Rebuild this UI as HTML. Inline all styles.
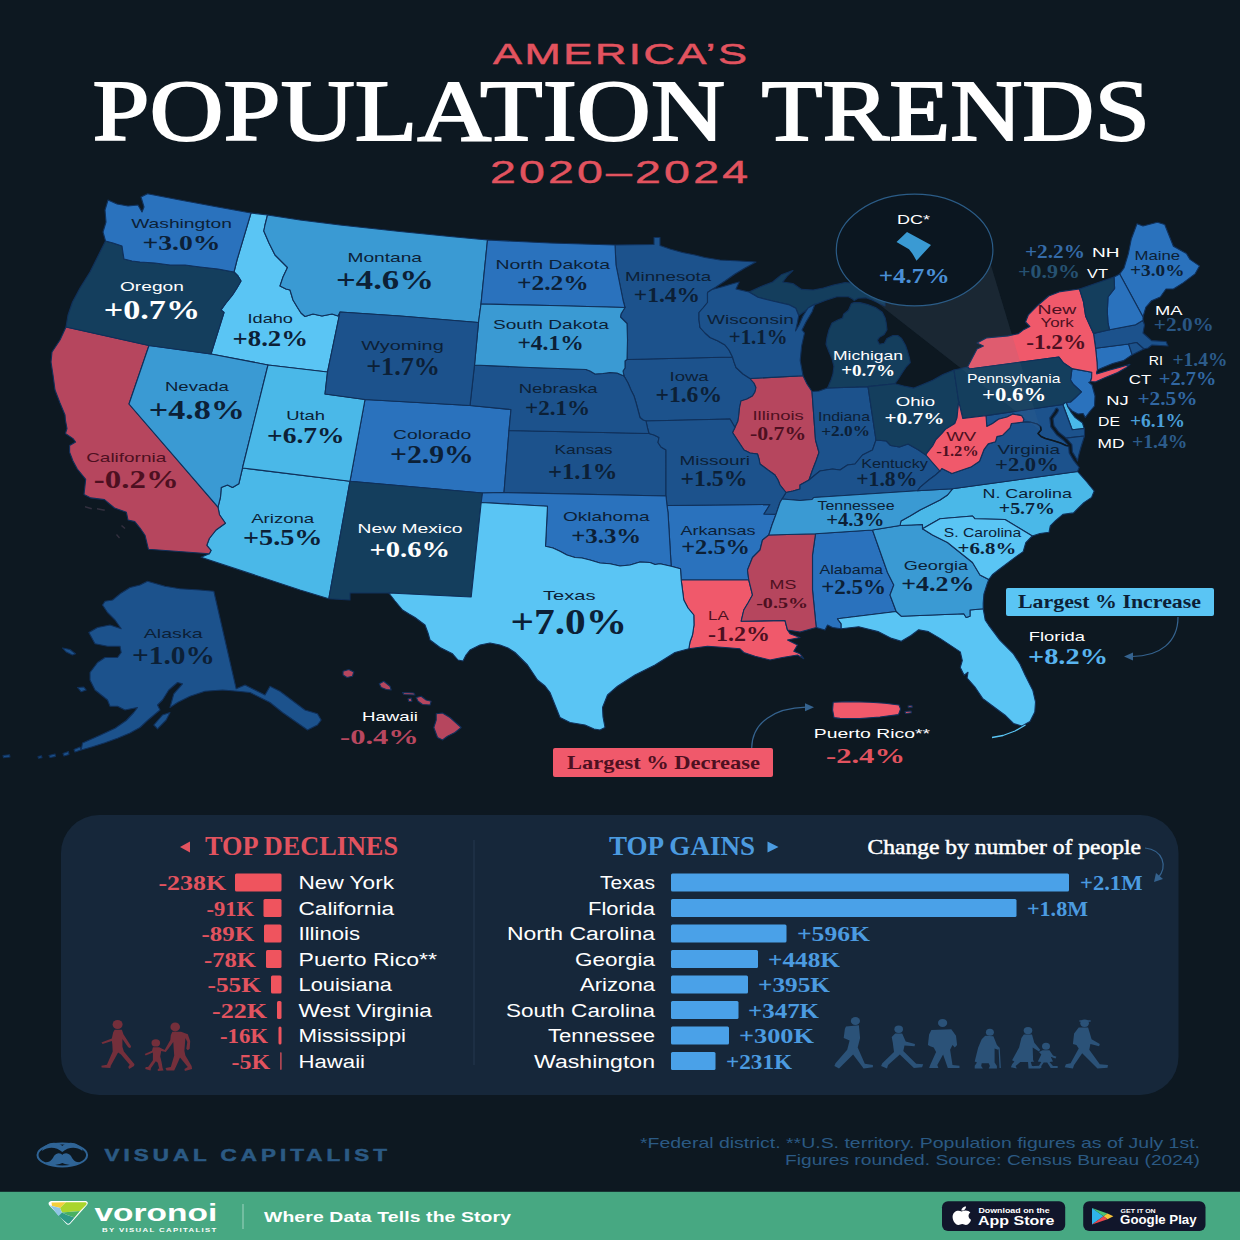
<!DOCTYPE html>
<html><head><meta charset="utf-8"><title>America's Population Trends 2020-2024</title>
<style>
html,body{margin:0;padding:0;background:#0d1821;}
body{width:1240px;height:1240px;overflow:hidden;font-family:"Liberation Sans",sans-serif;}
svg{display:block;}
.s{font-family:"Liberation Serif",serif;}
.n{font-family:"Liberation Sans",sans-serif;}
</style></head><body>
<svg width="1240" height="1240" viewBox="0 0 1240 1240">
<path d="M848 280 L1041 431 L990 262 Z" fill="#5a7390" opacity="0.07"/>
<g stroke="#10305a" stroke-width="1.1" stroke-linejoin="round">
<path d="M872.5 530.0 L815.5 533.8 L812.5 555.0 L812.5 590.0 L816.2 627.5 L825.0 630.0 L827.5 625.0 L832.5 627.5 L841.2 628.8 L841.2 623.8 L837.5 618.8 L896.2 611.5 L890.0 595.0 L893.8 585.0 L887.5 572.5 L872.5 530.0Z" fill="#2a72bd"/>
<path d="M667.0 505.5 L668.0 512.5 L671.2 566.2 L680.5 568.8 L681.2 580.0 L748.8 580.0 L747.5 570.0 L752.5 557.5 L760.0 550.0 L762.5 540.0 L768.8 535.0 L772.0 525.0 L776.0 514.2 L764.0 514.0 L770.0 504.5 L667.0 505.5Z" fill="#2a72bd"/>
<path d="M218.0 507.2 L219.5 514.8 L225.4 523.3 L216.0 530.0 L209.3 538.5 L206.8 545.3 L211.0 550.4 L209.3 553.8 L201.0 557.2 L300.0 590.0 L328.8 598.8 L350.0 481.2 L242.5 468.0 L238.8 483.8 L232.5 487.5 L227.5 485.0 L221.2 487.5 L220.5 497.0 L218.0 507.2Z" fill="#4ab8e8"/>
<path d="M66.0 327.0 L149.0 345.5 L129.0 404.0 L218.0 507.2 L219.5 514.8 L225.4 523.3 L216.0 530.0 L209.3 538.5 L206.8 545.3 L211.0 550.4 L209.3 553.8 L148.4 549.2 L145.0 535.2 L140.0 528.0 L134.8 521.6 L128.0 520.0 L126.4 512.3 L114.5 508.0 L104.4 499.6 L90.8 497.9 L84.0 494.5 L85.7 479.3 L77.3 469.0 L73.0 461.0 L69.6 452.2 L69.6 445.4 L75.6 442.0 L73.0 438.6 L65.4 433.5 L67.0 428.5 L65.4 420.0 L65.0 415.0 L60.0 403.0 L55.0 390.0 L53.0 375.0 L51.0 362.0 L52.0 352.0 L60.0 340.0 L66.0 327.0Z" fill="#b6465e"/>
<path d="M365.0 399.5 L350.0 481.2 L482.5 493.0 L504.0 492.5 L509.0 430.5 L511.0 409.5 L470.0 405.5 L365.0 399.5Z" fill="#2a72bd"/>
<path d="M1095.6 348.3 L1097.0 362.0 L1097.4 370.0 L1101.8 367.9 L1112.7 363.5 L1123.5 360.6 L1132.2 354.8 L1128.6 344.0 L1095.6 348.3Z" fill="#2a72bd"/>
<path d="M1062.8 404.5 L1064.5 403.0 L1066.4 402.3 L1067.9 406.7 L1070.8 411.8 L1075.2 417.6 L1082.4 422.7 L1083.9 427.7 L1084.5 428.5 L1072.2 429.8 L1062.8 404.5Z" fill="#4ab8e8"/>
<path d="M841.2 628.8 L841.2 623.8 L837.5 618.8 L896.2 611.5 L901.2 616.2 L963.8 613.8 L966.2 617.5 L970.0 616.2 L970.0 610.0 L983.2 608.8 L985.2 620.0 L988.4 624.8 L1000.0 640.3 L1013.5 653.9 L1020.0 664.0 L1025.2 675.2 L1032.9 690.6 L1035.5 702.0 L1034.8 712.0 L1030.0 721.6 L1022.0 726.0 L1013.5 723.5 L1005.8 715.8 L998.0 710.0 L990.3 704.2 L982.6 698.4 L974.8 686.8 L967.1 678.0 L968.0 672.3 L964.2 675.2 L960.3 667.4 L962.3 660.6 L960.3 651.9 L951.6 646.1 L940.0 638.4 L928.4 631.6 L918.7 629.7 L911.0 635.5 L901.3 641.3 L891.6 638.4 L878.0 631.6 L858.7 626.8 L841.2 628.8Z" fill="#5ac5f4"/>
<path d="M900.0 525.5 L872.5 530.0 L887.5 572.5 L893.8 585.0 L890.0 595.0 L896.2 611.5 L901.2 616.2 L963.8 613.8 L966.2 617.5 L970.0 616.2 L970.0 610.0 L983.2 608.8 L983.2 603.0 L983.9 594.2 L987.1 583.9 L988.8 579.5 L980.0 575.0 L972.5 562.5 L960.0 552.5 L947.5 542.5 L932.5 535.0 L922.5 528.8 L922.5 524.5 L900.0 525.5Z" fill="#3a9ad3"/>
<path d="M627.0 359.5 L625.0 361.0 L625.0 368.0 L623.0 371.0 L624.0 376.0 L628.0 383.0 L631.0 390.0 L634.0 396.0 L636.0 402.5 L638.0 410.0 L640.0 417.5 L643.0 420.0 L646.0 421.0 L730.0 419.0 L735.0 427.5 L738.0 421.0 L739.0 414.0 L739.5 408.0 L741.0 401.0 L747.0 399.0 L752.5 396.0 L755.0 392.0 L756.0 387.5 L754.0 383.0 L750.0 378.5 L743.0 374.0 L736.0 367.5 L734.0 362.0 L732.5 357.0 L627.0 359.5Z" fill="#1c528c"/>
<path d="M251.0 213.0 L237.0 260.0 L235.0 268.0 L234.0 272.0 L238.0 276.0 L241.0 281.0 L237.0 288.0 L232.5 295.0 L226.0 303.0 L221.0 310.0 L224.0 312.5 L211.0 354.0 L268.0 365.0 L327.5 372.0 L340.0 312.0 L338.0 316.0 L332.0 314.0 L322.0 316.0 L313.0 314.0 L305.0 316.5 L301.0 313.0 L297.5 307.5 L293.0 300.0 L290.0 290.0 L286.0 289.0 L280.0 286.0 L283.0 277.0 L287.5 267.5 L282.0 262.0 L275.0 255.0 L269.0 243.0 L263.8 231.0 L265.0 225.0 L267.5 215.0 L251.0 213.0Z" fill="#5ac5f4"/>
<path d="M750.0 378.5 L754.0 383.0 L756.0 387.5 L755.0 392.0 L752.5 396.0 L747.0 399.0 L741.0 401.0 L739.5 408.0 L739.0 414.0 L738.0 421.0 L735.0 427.5 L732.5 432.5 L738.0 441.0 L744.0 450.0 L750.0 453.0 L757.5 454.0 L759.0 459.0 L760.0 464.0 L768.0 470.0 L775.0 475.0 L778.0 480.0 L780.0 485.0 L786.0 492.5 L793.0 491.0 L800.0 489.0 L800.0 485.0 L809.0 480.0 L812.5 470.0 L816.0 461.0 L819.0 452.5 L815.5 440.0 L812.0 391.5 L807.0 384.0 L803.0 375.7 L750.0 378.5Z" fill="#b6465e"/>
<path d="M812.0 391.5 L815.5 440.0 L819.0 452.5 L816.0 461.0 L812.5 470.0 L809.0 480.0 L815.0 475.0 L820.0 471.0 L832.5 469.0 L840.0 470.0 L847.5 465.0 L855.0 464.0 L862.5 455.0 L872.5 450.0 L876.0 440.0 L868.0 386.6 L827.5 388.0 L819.0 391.0 L812.0 391.5Z" fill="#1c528c"/>
<path d="M509.0 430.5 L504.0 492.5 L666.0 496.0 L666.0 450.0 L661.0 447.0 L658.0 442.5 L659.0 437.5 L654.0 435.0 L649.0 433.5 L509.0 430.5Z" fill="#1c528c"/>
<path d="M809.0 480.0 L800.0 485.0 L800.0 489.0 L793.0 491.0 L786.0 492.5 L782.0 499.0 L800.0 500.5 L812.0 499.5 L813.8 497.5 L917.5 490.8 L920.0 487.4 L928.7 480.0 L934.5 475.8 L940.0 471.0 L932.5 462.5 L926.0 455.0 L918.2 449.8 L908.0 444.0 L899.4 447.0 L890.6 445.5 L886.3 441.0 L876.0 440.0 L872.5 450.0 L862.5 455.0 L855.0 464.0 L847.5 465.0 L840.0 470.0 L832.5 469.0 L820.0 471.0 L815.0 475.0 L809.0 480.0Z" fill="#1c528c"/>
<path d="M681.2 580.0 L748.8 580.0 L752.5 595.0 L748.0 603.0 L743.8 610.0 L741.2 621.2 L785.0 620.5 L787.5 630.0 L790.0 633.8 L800.0 637.5 L787.5 640.0 L797.5 645.0 L793.8 651.2 L800.0 653.8 L803.8 658.8 L797.5 655.0 L782.5 657.5 L770.0 660.0 L755.0 656.2 L743.8 652.5 L740.0 648.8 L725.0 647.5 L707.5 646.2 L688.8 648.8 L690.0 642.0 L692.5 635.0 L694.0 625.0 L693.8 615.0 L688.0 608.0 L683.8 600.0 L681.2 580.0Z" fill="#f0596b"/>
<path d="M1093.5 333.4 L1095.6 348.3 L1128.6 344.0 L1136.6 342.5 L1143.9 349.0 L1148.0 348.0 L1152.0 345.0 L1168.0 346.0 L1166.0 341.5 L1151.6 340.6 L1143.0 333.0 L1144.5 325.0 L1143.0 320.3 L1135.6 324.7 L1109.5 329.8 L1093.5 333.4Z" fill="#1c528c"/>
<path d="M986.0 415.6 L1062.8 404.5 L1072.2 429.8 L1084.5 428.5 L1084.5 436.0 L1066.2 438.1 L1058.9 432.3 L1054.0 425.6 L1053.0 418.7 L1057.7 412.4 L1058.6 410.1 L1057.0 408.0 L1055.4 408.9 L1054.9 410.6 L1049.8 417.9 L1050.8 427.0 L1056.5 434.7 L1063.8 440.5 L1068.7 445.9 L1066.0 445.5 L1060.6 443.0 L1052.7 440.5 L1045.4 438.5 L1041.0 436.5 L1038.0 433.5 L1041.0 430.0 L1040.5 426.5 L1037.0 424.0 L1030.0 422.0 L1023.0 422.1 L1023.8 419.2 L1021.6 415.6 L1012.9 414.1 L1007.0 417.0 L998.4 419.2 L992.6 423.5 L986.8 426.5 L986.0 415.6Z" fill="#1c528c"/>
<path d="M1119.7 273.9 L1143.0 317.0 L1145.8 307.3 L1151.6 300.7 L1160.3 297.0 L1166.0 289.0 L1173.4 289.0 L1183.5 282.6 L1195.0 273.9 L1199.5 265.9 L1190.0 259.4 L1186.4 253.5 L1173.4 246.3 L1164.7 224.5 L1157.4 222.3 L1143.0 226.0 L1137.0 223.8 L1131.3 239.0 L1128.4 253.5 L1124.0 268.0 L1119.7 273.9Z" fill="#2a72bd"/>
<path d="M749.0 292.0 L758.0 297.3 L772.6 301.0 L788.5 304.6 L795.8 308.2 L798.7 315.5 L805.0 311.0 L812.6 305.5 L825.2 300.6 L836.8 296.8 L848.4 296.8 L852.3 298.7 L854.2 300.6 L858.0 298.3 L865.8 297.8 L871.6 299.7 L877.5 302.5 L885.0 306.0 L885.0 298.0 L874.2 292.3 L867.0 288.0 L856.8 283.5 L845.2 282.5 L833.5 285.0 L823.4 288.0 L813.2 290.0 L801.6 289.4 L792.9 283.5 L782.7 282.0 L787.0 276.3 L792.9 270.5 L781.3 274.8 L772.6 282.0 L761.0 286.5 L749.0 292.0Z M827.5 388.0 L868.0 386.6 L895.0 383.8 L899.0 378.0 L902.6 372.3 L906.5 366.5 L910.3 362.6 L909.4 357.8 L907.4 351.0 L905.5 345.2 L901.6 338.4 L897.8 335.5 L893.0 335.5 L887.0 338.4 L884.2 343.2 L879.4 344.2 L877.4 340.3 L879.4 337.4 L884.2 334.5 L887.0 329.7 L886.2 322.9 L885.2 318.0 L882.3 312.3 L875.5 307.4 L867.8 304.5 L860.0 302.6 L854.2 302.6 L851.3 303.6 L848.4 310.3 L843.6 314.2 L842.6 318.0 L837.7 320.0 L832.0 323.0 L829.0 329.7 L827.0 337.4 L826.0 344.2 L829.0 352.0 L832.0 358.7 L833.9 366.5 L832.9 374.2 L831.0 380.0 L827.5 388.0Z" fill="#143e5d"/>
<path d="M615.0 245.0 L616.0 265.0 L619.0 280.0 L621.0 290.0 L623.0 300.0 L625.0 307.5 L621.0 314.0 L620.5 317.0 L627.0 323.5 L627.5 340.0 L627.0 359.5 L732.5 357.0 L729.0 350.0 L725.0 345.0 L718.0 341.0 L710.0 337.5 L705.0 333.0 L700.0 327.5 L699.0 320.0 L699.0 312.5 L703.0 308.0 L707.5 302.5 L707.5 292.5 L712.0 289.5 L716.0 287.0 L725.0 281.0 L735.0 274.0 L745.0 268.0 L756.0 262.0 L740.0 261.0 L720.0 260.0 L705.0 257.5 L695.0 255.0 L682.5 252.5 L670.0 249.0 L660.0 245.5 L660.0 237.5 L654.0 237.5 L654.0 244.5 L615.0 245.0Z" fill="#1c528c"/>
<path d="M646.0 421.0 L647.5 428.0 L649.0 433.5 L654.0 435.0 L659.0 437.5 L658.0 442.5 L661.0 447.0 L666.0 450.0 L666.0 496.0 L667.0 505.5 L770.0 504.5 L764.0 514.0 L776.0 514.2 L780.0 502.5 L782.0 499.0 L786.0 492.5 L780.0 485.0 L778.0 480.0 L775.0 475.0 L768.0 470.0 L760.0 464.0 L759.0 459.0 L757.5 454.0 L750.0 453.0 L744.0 450.0 L738.0 441.0 L732.5 432.5 L735.0 427.5 L730.0 419.0 L646.0 421.0Z" fill="#1c528c"/>
<path d="M815.5 533.8 L768.8 535.0 L762.5 540.0 L760.0 550.0 L752.5 557.5 L747.5 570.0 L748.8 580.0 L752.5 595.0 L748.0 603.0 L743.8 610.0 L741.2 621.2 L785.0 620.5 L787.5 630.0 L800.0 632.0 L816.2 627.5 L812.5 590.0 L812.5 555.0 L815.5 533.8Z" fill="#b6465e"/>
<path d="M267.5 215.0 L265.0 225.0 L263.8 231.0 L269.0 243.0 L275.0 255.0 L282.0 262.0 L287.5 267.5 L283.0 277.0 L280.0 286.0 L286.0 289.0 L290.0 290.0 L293.0 300.0 L297.5 307.5 L301.0 313.0 L305.0 316.5 L313.0 314.0 L322.0 316.0 L332.0 314.0 L338.0 316.0 L340.0 312.0 L400.0 316.0 L478.5 322.5 L481.0 304.0 L487.5 240.0 L450.0 236.5 L400.0 231.5 L340.0 225.0 L300.0 220.0 L267.5 215.0Z" fill="#3a9ad3"/>
<path d="M952.5 488.8 L947.5 495.0 L940.0 500.0 L930.0 505.0 L920.0 510.0 L910.0 516.0 L901.0 521.0 L900.0 525.5 L922.5 524.5 L922.5 528.8 L940.0 518.8 L972.5 516.0 L975.0 518.8 L1005.0 519.5 L1032.3 536.0 L1040.0 533.5 L1049.0 532.3 L1050.3 525.8 L1055.5 520.6 L1063.2 514.2 L1073.5 512.9 L1078.7 507.7 L1083.9 502.6 L1091.6 497.4 L1094.2 491.0 L1086.0 481.0 L1077.5 471.5 L952.5 488.8Z" fill="#4ab8e8"/>
<path d="M481.0 304.0 L487.5 240.0 L550.0 243.0 L615.0 245.0 L616.0 265.0 L619.0 280.0 L621.0 290.0 L623.0 300.0 L625.0 307.5 L550.0 305.5 L481.0 304.0Z" fill="#2a72bd"/>
<path d="M470.0 405.5 L511.0 409.5 L509.0 430.5 L649.0 433.5 L647.5 428.0 L646.0 421.0 L643.0 420.0 L640.0 417.5 L638.0 410.0 L636.0 402.5 L634.0 396.0 L631.0 390.0 L628.0 383.0 L624.0 376.0 L617.0 373.0 L610.0 372.5 L603.0 373.5 L595.0 374.0 L590.0 371.0 L586.0 369.5 L530.0 367.5 L474.5 365.0 L470.0 405.5Z" fill="#1c528c"/>
<path d="M1114.0 277.0 L1114.6 288.4 L1108.0 297.0 L1107.3 311.6 L1108.0 323.2 L1109.5 329.8 L1135.6 324.7 L1143.0 320.3 L1143.0 317.0 L1119.7 273.9 L1114.0 277.0Z" fill="#2a72bd"/>
<path d="M1072.0 368.6 L1070.5 380.0 L1073.4 384.5 L1081.4 391.8 L1075.0 398.0 L1070.5 402.0 L1066.4 402.3 L1067.9 406.7 L1072.2 411.0 L1078.0 414.0 L1083.1 413.5 L1085.3 417.5 L1089.4 412.0 L1094.5 406.0 L1095.0 396.0 L1092.0 385.0 L1088.7 382.4 L1090.5 381.5 L1091.6 378.0 L1091.8 372.2 L1072.0 368.6Z" fill="#2a72bd"/>
<path d="M350.0 481.2 L328.8 598.8 L350.0 600.0 L350.0 593.0 L388.8 593.0 L471.2 597.0 L481.2 502.5 L482.5 493.0 L350.0 481.2Z" fill="#143e5d"/>
<path d="M149.0 345.5 L211.0 354.0 L268.0 365.0 L242.5 468.0 L238.8 483.8 L232.5 487.5 L227.5 485.0 L221.2 487.5 L220.5 497.0 L218.0 507.2 L129.0 404.0 L149.0 345.5Z" fill="#3a9ad3"/>
<path d="M967.6 367.0 L969.5 369.0 L1058.9 357.0 L1063.2 362.7 L1072.0 368.6 L1091.8 372.2 L1091.6 378.0 L1090.5 381.5 L1095.2 381.9 L1105.4 377.5 L1117.7 372.4 L1126.4 367.4 L1130.0 364.3 L1119.2 367.4 L1109.0 370.2 L1096.7 373.9 L1096.5 372.5 L1097.4 370.0 L1097.0 362.0 L1095.6 348.3 L1093.5 333.4 L1085.7 316.3 L1083.5 301.8 L1079.5 289.0 L1060.3 291.6 L1048.7 296.0 L1037.0 306.0 L1028.4 314.8 L1025.5 322.0 L1029.8 326.5 L1024.0 329.4 L1018.2 333.7 L1008.0 335.9 L986.3 338.0 L977.0 343.0 L983.4 346.0 L977.0 349.0 L967.6 367.0Z" fill="#f0596b"/>
<path d="M868.0 386.6 L876.0 440.0 L886.3 441.0 L890.6 445.5 L899.4 447.0 L908.0 444.0 L918.2 449.8 L926.0 455.0 L927.3 452.6 L933.0 445.3 L936.0 439.5 L941.8 433.7 L945.4 429.4 L954.8 423.5 L957.0 417.7 L958.7 401.5 L954.0 370.0 L942.9 374.4 L932.7 380.2 L922.6 384.5 L913.9 388.1 L903.7 386.0 L895.0 383.8 L868.0 386.6Z" fill="#143e5d"/>
<path d="M482.5 493.0 L481.2 502.5 L547.5 506.2 L545.5 546.2 L553.0 548.0 L560.0 551.2 L567.0 555.0 L575.0 557.5 L582.0 558.0 L590.0 560.0 L600.0 563.0 L610.0 563.8 L620.0 566.0 L630.0 565.0 L640.0 562.0 L650.0 562.5 L655.0 564.5 L660.0 563.8 L671.2 566.2 L668.0 512.5 L667.0 505.5 L666.0 496.0 L504.0 492.5 L482.5 493.0Z" fill="#2a72bd"/>
<path d="M105.5 241.0 L113.0 243.0 L122.0 246.0 L123.0 253.0 L124.0 259.0 L132.0 261.0 L140.0 262.0 L155.0 263.0 L170.0 265.0 L185.0 265.0 L200.0 267.0 L218.0 269.0 L234.0 272.0 L238.0 276.0 L241.0 281.0 L237.0 288.0 L232.5 295.0 L226.0 303.0 L221.0 310.0 L224.0 312.5 L211.0 354.0 L149.0 345.5 L66.0 327.0 L68.0 315.0 L72.5 302.0 L80.0 288.0 L90.0 272.0 L98.0 256.0 L105.5 241.0Z" fill="#143e5d"/>
<path d="M954.0 370.0 L958.7 401.5 L962.8 418.5 L986.0 415.6 L1062.8 404.5 L1064.5 403.0 L1066.4 402.3 L1070.5 402.0 L1075.0 398.0 L1081.4 391.8 L1073.4 384.5 L1070.5 380.0 L1072.0 368.6 L1063.2 362.7 L1058.9 357.0 L969.5 369.0 L967.6 367.0 L954.0 370.0Z" fill="#143e5d"/>
<path d="M1128.6 344.0 L1136.6 342.5 L1143.9 349.0 L1132.2 354.8 L1128.6 344.0Z" fill="#1c528c"/>
<path d="M922.5 528.8 L932.5 535.0 L947.5 542.5 L960.0 552.5 L972.5 562.5 L980.0 575.0 L988.8 579.5 L992.3 574.8 L998.7 569.7 L1009.0 561.9 L1016.8 556.1 L1023.2 551.6 L1025.8 542.6 L1032.3 536.0 L1005.0 519.5 L975.0 518.8 L972.5 516.0 L940.0 518.8 L922.5 528.8Z" fill="#5ac5f4"/>
<path d="M478.5 322.5 L481.0 304.0 L550.0 305.5 L625.0 307.5 L621.0 314.0 L620.5 317.0 L627.0 323.5 L627.5 340.0 L627.0 359.5 L625.0 361.0 L625.0 368.0 L623.0 371.0 L624.0 376.0 L617.0 373.0 L610.0 372.5 L603.0 373.5 L595.0 374.0 L590.0 371.0 L586.0 369.5 L530.0 367.5 L474.5 365.0 L478.5 322.5Z" fill="#3a9ad3"/>
<path d="M782.0 499.0 L780.0 502.5 L776.0 514.2 L772.0 525.0 L768.8 535.0 L815.5 533.8 L872.5 530.0 L900.0 525.5 L901.0 521.0 L910.0 516.0 L920.0 510.0 L930.0 505.0 L940.0 500.0 L947.5 495.0 L952.5 488.8 L917.5 490.8 L813.8 497.5 L812.0 499.5 L800.0 500.5 L782.0 499.0Z" fill="#3a9ad3"/>
<path d="M481.2 502.5 L471.2 597.0 L388.8 593.0 L395.0 601.0 L402.5 610.0 L409.0 614.0 L415.0 617.5 L425.0 625.0 L428.0 633.0 L430.0 640.0 L440.0 647.5 L452.5 653.8 L458.0 660.0 L463.0 661.0 L466.0 655.0 L470.0 650.0 L480.0 645.0 L490.0 643.0 L500.0 645.0 L508.0 648.0 L515.0 652.5 L527.5 665.0 L537.5 680.0 L545.0 686.0 L550.0 692.5 L555.0 705.0 L560.0 717.5 L570.0 722.5 L585.0 725.0 L594.0 729.0 L600.0 730.0 L605.0 727.5 L603.0 717.0 L602.5 707.5 L607.5 695.0 L617.5 686.2 L635.0 675.0 L655.0 665.0 L675.0 652.5 L688.8 648.8 L690.0 642.0 L692.5 635.0 L694.0 625.0 L693.8 615.0 L688.0 608.0 L683.8 600.0 L681.2 580.0 L680.5 568.8 L671.2 566.2 L660.0 563.8 L655.0 564.5 L650.0 562.5 L640.0 562.0 L630.0 565.0 L620.0 566.0 L610.0 563.8 L600.0 563.0 L590.0 560.0 L582.0 558.0 L575.0 557.5 L567.0 555.0 L560.0 551.2 L553.0 548.0 L545.5 546.2 L547.5 506.2 L481.2 502.5Z" fill="#5ac5f4"/>
<path d="M268.0 365.0 L327.5 372.0 L325.0 394.0 L365.0 399.5 L350.0 481.2 L242.5 468.0 L268.0 365.0Z" fill="#4ab8e8"/>
<path d="M1084.5 436.0 L1066.2 438.1 L1071.9 444.5 L1072.4 451.9 L1076.6 458.7 L1077.5 461.0 L1078.5 456.0 L1081.0 447.0 L1084.5 436.0Z M1023.0 422.1 L1030.0 422.0 L1037.0 424.0 L1040.5 426.5 L1041.0 430.0 L1038.0 433.5 L1041.0 436.5 L1045.4 438.5 L1052.7 440.5 L1060.6 443.0 L1066.0 445.5 L1068.7 445.9 L1069.2 452.9 L1073.8 460.7 L1079.2 467.5 L1077.5 471.5 L952.5 488.8 L917.5 490.8 L920.0 487.4 L928.7 480.0 L934.5 475.8 L940.0 471.0 L941.8 468.5 L951.9 473.6 L962.1 470.0 L970.8 467.1 L979.5 461.3 L983.9 449.7 L988.2 443.9 L995.5 441.7 L996.9 436.6 L1002.7 435.2 L1010.0 427.9 L1011.4 423.5 L1023.0 422.1Z" fill="#1c528c"/>
<path d="M1079.5 289.0 L1083.5 301.8 L1085.7 316.3 L1093.5 333.4 L1109.5 329.8 L1108.0 323.2 L1107.3 311.6 L1108.0 297.0 L1114.6 288.4 L1114.0 277.0 L1079.5 289.0Z" fill="#143e5d"/>
<path d="M105.5 241.0 L103.0 232.0 L106.0 222.0 L105.0 210.0 L108.0 200.0 L117.0 204.0 L128.0 206.0 L138.0 205.0 L142.0 212.0 L144.0 207.0 L141.0 197.0 L147.5 193.8 L180.0 200.0 L215.0 206.5 L251.0 213.0 L237.0 260.0 L235.0 268.0 L234.0 272.0 L218.0 269.0 L200.0 267.0 L185.0 265.0 L170.0 265.0 L155.0 263.0 L140.0 262.0 L132.0 261.0 L124.0 259.0 L123.0 253.0 L122.0 246.0 L113.0 243.0 L105.5 241.0Z" fill="#2a72bd"/>
<path d="M712.0 289.5 L707.5 292.5 L707.5 302.5 L703.0 308.0 L699.0 312.5 L699.0 320.0 L700.0 327.5 L705.0 333.0 L710.0 337.5 L718.0 341.0 L725.0 345.0 L729.0 350.0 L732.5 357.0 L734.0 362.0 L736.0 367.5 L743.0 374.0 L750.0 378.5 L803.0 375.7 L800.2 360.5 L801.6 346.0 L804.5 333.0 L802.0 330.0 L806.0 322.0 L812.0 312.0 L815.0 304.0 L808.0 308.0 L803.0 316.0 L799.0 325.0 L795.5 331.0 L797.5 322.0 L798.7 315.5 L795.8 308.2 L788.5 304.6 L772.6 301.0 L758.0 297.3 L749.0 292.0 L736.0 289.0 L739.2 282.0 L733.4 283.5 L723.2 286.5 L712.0 289.5Z" fill="#1c528c"/>
<path d="M958.7 401.5 L957.0 417.7 L954.8 423.5 L945.4 429.4 L941.8 433.7 L936.0 439.5 L933.0 445.3 L927.3 452.6 L926.0 455.0 L932.5 462.5 L940.0 471.0 L941.8 468.5 L951.9 473.6 L962.1 470.0 L970.8 467.1 L979.5 461.3 L983.9 449.7 L988.2 443.9 L995.5 441.7 L996.9 436.6 L1002.7 435.2 L1010.0 427.9 L1011.4 423.5 L1023.0 422.1 L1023.8 419.2 L1021.6 415.6 L1012.9 414.1 L1007.0 417.0 L998.4 419.2 L992.6 423.5 L986.8 426.5 L986.0 415.6 L962.8 418.5 L958.7 401.5Z" fill="#f0596b"/>
<path d="M327.5 372.0 L340.0 312.0 L400.0 316.0 L478.5 322.5 L474.5 365.0 L470.0 405.5 L365.0 399.5 L325.0 394.0 L327.5 372.0Z" fill="#1c528c"/>
<path d="M1040.5 426.5 L1041.0 430.0 L1038.0 433.5 L1041.0 436.5 L1045.4 438.5 L1052.7 440.5 L1060.6 443.0 L1066.0 445.5 L1068.7 445.9" fill="none" stroke="#0d1821" stroke-width="1.6"/>
<path d="M147.5 581.2 L165.0 586.2 L180.0 588.8 L200.0 590.0 L213.8 591.2 L236.2 688.8 L245.0 685.0 L255.0 690.0 L265.0 695.0 L270.0 686.2 L280.0 691.2 L295.0 702.5 L305.0 710.0 L317.5 713.8 L321.2 720.0 L317.5 725.0 L307.5 730.0 L295.0 721.2 L282.5 712.5 L270.0 702.5 L260.0 697.5 L250.0 692.5 L237.5 691.2 L222.5 690.0 L205.0 691.2 L190.0 696.2 L177.5 702.5 L170.0 707.5 L173.8 693.8 L182.5 683.8 L177.5 682.5 L168.8 690.0 L162.5 700.0 L157.5 705.0 L160.0 710.0 L147.5 720.5 L140.0 727.5 L130.0 733.0 L117.5 738.2 L105.0 742.8 L92.5 746.8 L81.2 750.0 L82.5 743.0 L100.0 735.2 L115.0 728.2 L126.2 720.5 L133.8 712.5 L137.5 707.5 L125.0 710.0 L117.5 706.2 L110.0 706.2 L107.5 700.0 L95.0 690.0 L90.0 680.0 L90.0 672.5 L97.5 662.5 L105.0 657.5 L117.5 657.5 L121.2 652.5 L120.0 646.2 L107.5 646.2 L95.0 643.8 L88.8 632.5 L97.5 627.5 L110.0 625.0 L121.2 628.8 L115.0 620.0 L107.5 612.5 L102.5 605.0 L105.0 601.2 L112.5 600.0 L120.0 593.8 L130.0 587.5 L140.0 585.0Z M153.8 725.0 L162.5 715.0 L170.0 712.5 L166.2 720.0 L157.5 728.8Z M62.5 648.0 L70.0 649.5 L75.5 653.8 L72.5 655.0 L66.2 652.0Z M77.5 687.5 L83.8 687.0 L86.2 690.0 L81.2 691.8Z M63.0 753.5 L68.5 751.5 L69.0 754.5 L64.0 756.0Z M49.0 755.5 L55.0 754.0 L55.5 756.5 L50.0 757.5Z M38.0 756.5 L41.5 755.8 L42.0 757.8 L38.5 758.3Z M3.0 755.5 L9.6 754.8 L10.0 757.0 L3.5 757.6Z M74.0 749.5 L80.0 747.0 L81.0 750.0 L75.0 752.0Z" fill="#1c528c"/>
<path d="M992 737.5 L1003 735.5 L1015 731 L1025.5 725" fill="none" stroke="#5ac5f4" stroke-width="1.3"/>
<path d="M85 506 L92 508 L91.5 509.5 L85 507.5Z M97 508 L105 509.5 L104.5 511 L97 509.5Z M122 525 L125.5 528 L124.5 529 L121 526Z M117 534 L120 537.5 L119 538.5 L116 535Z" fill="#33303f" stroke="none"/>
<path d="M343.0 671.2 L348.8 669.5 L353.8 672.0 L352.5 676.2 L347.0 677.5 L343.0 675.0Z M379.2 683.8 L383.8 681.2 L390.0 686.2 L391.2 690.0 L386.2 689.5 L381.2 687.5Z M402.5 692.5 L413.8 693.0 L415.0 695.0 L403.8 694.5Z M408.0 698.8 L411.2 698.0 L412.0 701.2 L408.8 701.5Z M416.2 697.5 L421.2 696.2 L426.2 700.0 L431.2 701.2 L430.0 705.0 L422.5 704.5 L418.0 701.2Z M436.2 713.8 L442.5 713.0 L450.0 717.5 L461.2 727.5 L455.0 732.5 L447.5 736.2 L442.5 740.0 L437.5 737.5 L433.8 727.5 L436.2 720.0Z" fill="#b6465e"/>
<path d="M833.2 702.3 L850.0 701.6 L870.0 702.3 L885.0 703.3 L899.0 705.0 L900.6 709.0 L898.5 714.6 L880.0 717.0 L860.0 718.6 L840.0 718.4 L834.0 717.6 L832.6 710.0Z M905.0 711.5 L911.0 711.0 L911.5 712.8 L905.5 713.5Z M908.0 706.0 L912.0 705.6 L912.2 707.3 L908.3 707.6Z" fill="#f0596b"/>
</g>
<path d="M848 280 L1041 431 L990 262 Z" fill="#5a7390" opacity="0.11"/>
<ellipse cx="914.6" cy="250" rx="78.3" ry="55.8" fill="#0b1620" stroke="#2b5c87" stroke-width="1.2"/>
<path d="M896.5 241.9 L907 232 L931 245 L916.5 260.7 L912.3 253.4 L909 249.2 Z" fill="#3a9ad3"/>
<text class="n" x="131.2" y="228.0" font-size="13.0" fill="#0c2036" textLength="100.8" lengthAdjust="spacingAndGlyphs">Washington</text>
<text class="s" x="142.5" y="250.0" font-size="21.4" fill="#0c2036" font-weight="bold" textLength="78.0" lengthAdjust="spacingAndGlyphs">+3.0%</text>
<text class="n" x="120.0" y="291.2" font-size="13.0" fill="#ffffff" textLength="63.8" lengthAdjust="spacingAndGlyphs">Oregon</text>
<text class="s" x="103.8" y="318.8" font-size="27.7" fill="#ffffff" font-weight="bold" textLength="96.2" lengthAdjust="spacingAndGlyphs">+0.7%</text>
<text class="n" x="247.5" y="322.5" font-size="13.0" fill="#0c2036" textLength="45.5" lengthAdjust="spacingAndGlyphs">Idaho</text>
<text class="s" x="232.5" y="345.5" font-size="22.2" fill="#0c2036" font-weight="bold" textLength="75.5" lengthAdjust="spacingAndGlyphs">+8.2%</text>
<text class="n" x="165.0" y="390.8" font-size="13.0" fill="#0c2036" textLength="63.8" lengthAdjust="spacingAndGlyphs">Nevada</text>
<text class="s" x="148.8" y="418.8" font-size="26.6" fill="#0c2036" font-weight="bold" textLength="96.2" lengthAdjust="spacingAndGlyphs">+4.8%</text>
<text class="n" x="286.2" y="420.0" font-size="13.0" fill="#0c2036" textLength="38.8" lengthAdjust="spacingAndGlyphs">Utah</text>
<text class="s" x="267.0" y="443.0" font-size="22.9" fill="#0c2036" font-weight="bold" textLength="77.5" lengthAdjust="spacingAndGlyphs">+6.7%</text>
<text class="n" x="86.2" y="461.8" font-size="13.0" fill="#4d1021" textLength="80.0" lengthAdjust="spacingAndGlyphs">California</text>
<text class="s" x="93.8" y="487.5" font-size="25.1" fill="#4d1021" font-weight="bold" textLength="85.0" lengthAdjust="spacingAndGlyphs">-0.2%</text>
<text class="n" x="347.5" y="261.8" font-size="13.0" fill="#0c2036" textLength="74.5" lengthAdjust="spacingAndGlyphs">Montana</text>
<text class="s" x="336.0" y="288.8" font-size="26.6" fill="#0c2036" font-weight="bold" textLength="98.0" lengthAdjust="spacingAndGlyphs">+4.6%</text>
<text class="n" x="495.5" y="268.8" font-size="13.0" fill="#0c2036" textLength="114.5" lengthAdjust="spacingAndGlyphs">North Dakota</text>
<text class="s" x="517.0" y="290.0" font-size="20.3" fill="#0c2036" font-weight="bold" textLength="71.8" lengthAdjust="spacingAndGlyphs">+2.2%</text>
<text class="n" x="493.0" y="329.2" font-size="13.0" fill="#0c2036" textLength="115.8" lengthAdjust="spacingAndGlyphs">South Dakota</text>
<text class="s" x="517.5" y="350.0" font-size="20.3" fill="#0c2036" font-weight="bold" textLength="66.2" lengthAdjust="spacingAndGlyphs">+4.1%</text>
<text class="n" x="361.2" y="350.0" font-size="13.0" fill="#0c2036" textLength="82.5" lengthAdjust="spacingAndGlyphs">Wyoming</text>
<text class="s" x="366.2" y="375.0" font-size="25.1" fill="#0c2036" font-weight="bold" textLength="73.8" lengthAdjust="spacingAndGlyphs">+1.7%</text>
<text class="n" x="518.8" y="392.5" font-size="13.0" fill="#0c2036" textLength="78.8" lengthAdjust="spacingAndGlyphs">Nebraska</text>
<text class="s" x="525.0" y="415.0" font-size="20.7" fill="#0c2036" font-weight="bold" textLength="65.0" lengthAdjust="spacingAndGlyphs">+2.1%</text>
<text class="n" x="393.0" y="439.2" font-size="13.0" fill="#0c2036" textLength="78.2" lengthAdjust="spacingAndGlyphs">Colorado</text>
<text class="s" x="390.0" y="463.0" font-size="24.8" fill="#0c2036" font-weight="bold" textLength="83.8" lengthAdjust="spacingAndGlyphs">+2.9%</text>
<text class="n" x="554.5" y="453.8" font-size="13.0" fill="#0c2036" textLength="58.0" lengthAdjust="spacingAndGlyphs">Kansas</text>
<text class="s" x="548.0" y="478.8" font-size="23.7" fill="#0c2036" font-weight="bold" textLength="69.5" lengthAdjust="spacingAndGlyphs">+1.1%</text>
<text class="n" x="625.0" y="280.8" font-size="13.0" fill="#0c2036" textLength="86.2" lengthAdjust="spacingAndGlyphs">Minnesota</text>
<text class="s" x="633.8" y="301.8" font-size="20.7" fill="#0c2036" font-weight="bold" textLength="66.2" lengthAdjust="spacingAndGlyphs">+1.4%</text>
<text class="n" x="707.0" y="323.8" font-size="13.0" fill="#0c2036" textLength="86.8" lengthAdjust="spacingAndGlyphs">Wisconsin</text>
<text class="s" x="728.8" y="343.8" font-size="20.3" fill="#0c2036" font-weight="bold" textLength="58.8" lengthAdjust="spacingAndGlyphs">+1.1%</text>
<text class="n" x="669.5" y="381.2" font-size="13.0" fill="#0c2036" textLength="39.2" lengthAdjust="spacingAndGlyphs">Iowa</text>
<text class="s" x="655.5" y="401.8" font-size="22.9" fill="#0c2036" font-weight="bold" textLength="66.5" lengthAdjust="spacingAndGlyphs">+1.6%</text>
<text class="n" x="752.5" y="420.0" font-size="13.0" fill="#4d1021" textLength="51.2" lengthAdjust="spacingAndGlyphs">Illinois</text>
<text class="s" x="750.0" y="439.5" font-size="19.2" fill="#4d1021" font-weight="bold" textLength="56.2" lengthAdjust="spacingAndGlyphs">-0.7%</text>
<text class="n" x="818.0" y="420.8" font-size="13.0" fill="#0c2036" textLength="52.0" lengthAdjust="spacingAndGlyphs">Indiana</text>
<text class="s" x="821.2" y="436.2" font-size="15.5" fill="#0c2036" font-weight="bold" textLength="48.8" lengthAdjust="spacingAndGlyphs">+2.0%</text>
<text class="n" x="679.5" y="465.0" font-size="13.0" fill="#0c2036" textLength="70.5" lengthAdjust="spacingAndGlyphs">Missouri</text>
<text class="s" x="680.5" y="486.2" font-size="22.9" fill="#0c2036" font-weight="bold" textLength="67.0" lengthAdjust="spacingAndGlyphs">+1.5%</text>
<text class="n" x="833.0" y="359.5" font-size="13.0" fill="#ffffff" textLength="70.0" lengthAdjust="spacingAndGlyphs">Michigan</text>
<text class="s" x="841.2" y="376.2" font-size="17.0" fill="#ffffff" font-weight="bold" textLength="53.8" lengthAdjust="spacingAndGlyphs">+0.7%</text>
<text class="n" x="861.2" y="468.2" font-size="13.0" fill="#0c2036" textLength="66.8" lengthAdjust="spacingAndGlyphs">Kentucky</text>
<text class="s" x="856.2" y="486.2" font-size="20.3" fill="#0c2036" font-weight="bold" textLength="61.2" lengthAdjust="spacingAndGlyphs">+1.8%</text>
<text class="n" x="817.5" y="510.0" font-size="13.0" fill="#0c2036" textLength="77.0" lengthAdjust="spacingAndGlyphs">Tennessee</text>
<text class="s" x="826.2" y="526.2" font-size="17.8" fill="#0c2036" font-weight="bold" textLength="58.2" lengthAdjust="spacingAndGlyphs">+4.3%</text>
<text class="n" x="982.5" y="498.0" font-size="13.0" fill="#0c2036" textLength="89.5" lengthAdjust="spacingAndGlyphs">N. Carolina</text>
<text class="s" x="998.8" y="513.8" font-size="17.0" fill="#0c2036" font-weight="bold" textLength="56.2" lengthAdjust="spacingAndGlyphs">+5.7%</text>
<text class="n" x="943.8" y="537.0" font-size="13.0" fill="#0c2036" textLength="77.5" lengthAdjust="spacingAndGlyphs">S. Carolina</text>
<text class="s" x="957.5" y="554.2" font-size="17.4" fill="#0c2036" font-weight="bold" textLength="58.8" lengthAdjust="spacingAndGlyphs">+6.8%</text>
<text class="n" x="903.8" y="570.0" font-size="13.0" fill="#0c2036" textLength="64.2" lengthAdjust="spacingAndGlyphs">Georgia</text>
<text class="s" x="901.2" y="590.8" font-size="21.4" fill="#0c2036" font-weight="bold" textLength="73.2" lengthAdjust="spacingAndGlyphs">+4.2%</text>
<text class="n" x="819.5" y="574.2" font-size="13.0" fill="#0c2036" textLength="63.5" lengthAdjust="spacingAndGlyphs">Alabama</text>
<text class="s" x="821.2" y="593.8" font-size="20.3" fill="#0c2036" font-weight="bold" textLength="65.0" lengthAdjust="spacingAndGlyphs">+2.5%</text>
<text class="n" x="997.5" y="453.8" font-size="13.0" fill="#0c2036" textLength="62.5" lengthAdjust="spacingAndGlyphs">Virginia</text>
<text class="s" x="995.0" y="471.2" font-size="18.5" fill="#0c2036" font-weight="bold" textLength="63.8" lengthAdjust="spacingAndGlyphs">+2.0%</text>
<text class="n" x="946.2" y="440.5" font-size="13.0" fill="#4d1021" textLength="30.0" lengthAdjust="spacingAndGlyphs">WV</text>
<text class="s" x="936.2" y="456.2" font-size="14.8" fill="#4d1021" font-weight="bold" textLength="42.5" lengthAdjust="spacingAndGlyphs">-1.2%</text>
<text class="n" x="563.0" y="521.2" font-size="13.0" fill="#0c2036" textLength="86.5" lengthAdjust="spacingAndGlyphs">Oklahoma</text>
<text class="s" x="571.2" y="542.5" font-size="21.4" fill="#0c2036" font-weight="bold" textLength="70.0" lengthAdjust="spacingAndGlyphs">+3.3%</text>
<text class="n" x="680.5" y="534.5" font-size="13.0" fill="#0c2036" textLength="75.0" lengthAdjust="spacingAndGlyphs">Arkansas</text>
<text class="s" x="681.2" y="553.8" font-size="20.3" fill="#0c2036" font-weight="bold" textLength="68.8" lengthAdjust="spacingAndGlyphs">+2.5%</text>
<text class="n" x="543.0" y="600.0" font-size="13.0" fill="#0c2036" textLength="52.5" lengthAdjust="spacingAndGlyphs">Texas</text>
<text class="s" x="510.5" y="633.8" font-size="35.1" fill="#0c2036" font-weight="bold" textLength="116.5" lengthAdjust="spacingAndGlyphs">+7.0%</text>
<text class="n" x="769.5" y="589.2" font-size="13.0" fill="#4d1021" textLength="26.8" lengthAdjust="spacingAndGlyphs">MS</text>
<text class="s" x="756.2" y="607.5" font-size="14.1" fill="#4d1021" font-weight="bold" textLength="51.8" lengthAdjust="spacingAndGlyphs">-0.5%</text>
<text class="n" x="708.0" y="620.0" font-size="13.0" fill="#4d1021" textLength="20.8" lengthAdjust="spacingAndGlyphs">LA</text>
<text class="s" x="708.0" y="641.2" font-size="20.3" fill="#4d1021" font-weight="bold" textLength="62.0" lengthAdjust="spacingAndGlyphs">-1.2%</text>
<text class="n" x="251.2" y="522.5" font-size="13.0" fill="#0c2036" textLength="63.0" lengthAdjust="spacingAndGlyphs">Arizona</text>
<text class="s" x="243.0" y="545.0" font-size="24.0" fill="#0c2036" font-weight="bold" textLength="79.5" lengthAdjust="spacingAndGlyphs">+5.5%</text>
<text class="n" x="357.5" y="532.5" font-size="13.0" fill="#ffffff" textLength="105.0" lengthAdjust="spacingAndGlyphs">New Mexico</text>
<text class="s" x="369.5" y="557.0" font-size="23.3" fill="#ffffff" font-weight="bold" textLength="80.5" lengthAdjust="spacingAndGlyphs">+0.6%</text>
<text class="n" x="143.8" y="638.2" font-size="13.0" fill="#0c2036" textLength="58.8" lengthAdjust="spacingAndGlyphs">Alaska</text>
<text class="s" x="132.0" y="663.8" font-size="24.8" fill="#0c2036" font-weight="bold" textLength="83.0" lengthAdjust="spacingAndGlyphs">+1.0%</text>
<text class="n" x="362.0" y="721.2" font-size="13.0" fill="#ffffff" textLength="56.0" lengthAdjust="spacingAndGlyphs">Hawaii</text>
<text class="s" x="340.0" y="743.8" font-size="21.1" fill="#b8475f" font-weight="bold" textLength="78.8" lengthAdjust="spacingAndGlyphs">-0.4%</text>
<text class="n" x="967.0" y="382.5" font-size="13.0" fill="#ffffff" textLength="93.5" lengthAdjust="spacingAndGlyphs">Pennsylvania</text>
<text class="s" x="982.0" y="401.2" font-size="19.6" fill="#ffffff" font-weight="bold" textLength="64.2" lengthAdjust="spacingAndGlyphs">+0.6%</text>
<text class="n" x="895.7" y="406.3" font-size="13.0" fill="#ffffff" textLength="39.3" lengthAdjust="spacingAndGlyphs">Ohio</text>
<text class="s" x="884.5" y="424.4" font-size="17.2" fill="#ffffff" font-weight="bold" textLength="59.9" lengthAdjust="spacingAndGlyphs">+0.7%</text>
<text class="n" x="1134.5" y="259.5" font-size="13.0" fill="#0c2036" textLength="45.5" lengthAdjust="spacingAndGlyphs">Maine</text>
<text class="s" x="1130.0" y="275.5" font-size="16.3" fill="#0c2036" font-weight="bold" textLength="54.5" lengthAdjust="spacingAndGlyphs">+3.0%</text>
<text class="n" x="1028.8" y="641.2" font-size="13.0" fill="#ffffff" textLength="56.2" lengthAdjust="spacingAndGlyphs">Florida</text>
<text class="s" x="1028.0" y="663.8" font-size="23.7" fill="#58b4ef" font-weight="bold" textLength="80.0" lengthAdjust="spacingAndGlyphs">+8.2%</text>
<text class="n" x="813.8" y="737.5" font-size="13.0" fill="#ffffff" textLength="116.2" lengthAdjust="spacingAndGlyphs">Puerto Rico**</text>
<text class="s" x="826.0" y="763.0" font-size="21.4" fill="#e2535f" font-weight="bold" textLength="79.0" lengthAdjust="spacingAndGlyphs">-2.4%</text>
<text class="n" x="1037.5" y="313.8" font-size="13.0" fill="#4d1021" textLength="38.8" lengthAdjust="spacingAndGlyphs">New</text>
<text class="n" x="1040.5" y="327.0" font-size="13.0" fill="#4d1021" textLength="33.2" lengthAdjust="spacingAndGlyphs">York</text>
<text class="s" x="1026.2" y="348.8" font-size="20.3" fill="#4d1021" font-weight="bold" textLength="60.0" lengthAdjust="spacingAndGlyphs">-1.2%</text>
<text class="n" x="1092.0" y="257.0" font-size="13.0" fill="#ffffff" textLength="27.5" lengthAdjust="spacingAndGlyphs">NH</text>
<text class="s" x="1025.0" y="257.5" font-size="17.8" fill="#356ba8" font-weight="bold" textLength="60.0" lengthAdjust="spacingAndGlyphs">+2.2%</text>
<text class="n" x="1087.0" y="277.5" font-size="13.0" fill="#ffffff" textLength="21.0" lengthAdjust="spacingAndGlyphs">VT</text>
<text class="s" x="1018.0" y="278.0" font-size="17.8" fill="#265272" font-weight="bold" textLength="62.0" lengthAdjust="spacingAndGlyphs">+0.9%</text>
<text class="n" x="1155.0" y="314.5" font-size="13.0" fill="#ffffff" textLength="27.5" lengthAdjust="spacingAndGlyphs">MA</text>
<text class="s" x="1153.8" y="331.2" font-size="17.8" fill="#295684" font-weight="bold" textLength="60.0" lengthAdjust="spacingAndGlyphs">+2.0%</text>
<text class="n" x="1148.8" y="365.0" font-size="13.0" fill="#ffffff" textLength="14.2" lengthAdjust="spacingAndGlyphs">RI</text>
<text class="s" x="1172.5" y="365.5" font-size="17.8" fill="#2c5c8b" font-weight="bold" textLength="55.0" lengthAdjust="spacingAndGlyphs">+1.4%</text>
<text class="n" x="1128.8" y="383.8" font-size="13.0" fill="#ffffff" textLength="22.5" lengthAdjust="spacingAndGlyphs">CT</text>
<text class="s" x="1158.8" y="384.5" font-size="17.8" fill="#3167a2" font-weight="bold" textLength="57.5" lengthAdjust="spacingAndGlyphs">+2.7%</text>
<text class="n" x="1106.2" y="404.5" font-size="13.0" fill="#ffffff" textLength="22.5" lengthAdjust="spacingAndGlyphs">NJ</text>
<text class="s" x="1137.5" y="405.0" font-size="17.8" fill="#3167a2" font-weight="bold" textLength="60.0" lengthAdjust="spacingAndGlyphs">+2.5%</text>
<text class="n" x="1098.0" y="426.2" font-size="13.0" fill="#ffffff" textLength="22.0" lengthAdjust="spacingAndGlyphs">DE</text>
<text class="s" x="1130.0" y="427.0" font-size="17.8" fill="#4a9fd8" font-weight="bold" textLength="55.0" lengthAdjust="spacingAndGlyphs">+6.1%</text>
<text class="n" x="1097.5" y="447.5" font-size="13.0" fill="#ffffff" textLength="27.0" lengthAdjust="spacingAndGlyphs">MD</text>
<text class="s" x="1132.0" y="448.0" font-size="17.8" fill="#2c5c8b" font-weight="bold" textLength="55.5" lengthAdjust="spacingAndGlyphs">+1.4%</text>
<text class="n" x="897.0" y="224.0" font-size="13.0" fill="#ffffff" textLength="33.0" lengthAdjust="spacingAndGlyphs">DC*</text>
<text class="s" x="878.7" y="282.7" font-size="21.7" fill="#4a8fd6" font-weight="bold" textLength="70.9" lengthAdjust="spacingAndGlyphs">+4.7%</text>
<text class="n" transform="translate(493.0 64.0) scale(1.450 1)" font-size="30.0" fill="#e2535f" textLength="175.2" lengthAdjust="spacing" stroke="#e2535f" stroke-width="0.5">AMERICA’S</text>
<text class="s" x="92.5" y="139.5" font-size="86.0" fill="#ffffff" textLength="632.5" lengthAdjust="spacingAndGlyphs" stroke="#fff" stroke-width="1.8">POPULATION</text>
<text class="s" x="761.5" y="139.5" font-size="86.0" fill="#ffffff" textLength="388.5" lengthAdjust="spacingAndGlyphs" stroke="#fff" stroke-width="1.8">TRENDS</text>
<text class="n" transform="translate(490.0 182.5) scale(1.500 1)" font-size="31.0" fill="#e2535f" textLength="172.0" lengthAdjust="spacing" stroke="#e2535f" stroke-width="0.4">2020–2024</text>
<rect x="1006" y="588" width="208" height="28" rx="2" fill="#5ac5f4"/>
<text class="s" x="1018.0" y="608.0" font-size="19.0" fill="#0c2036" font-weight="bold" textLength="183.0" lengthAdjust="spacingAndGlyphs">Largest % Increase</text>
<rect x="553" y="748" width="220" height="29" rx="2" fill="#f0596b"/>
<text class="s" x="567.0" y="769.0" font-size="19.0" fill="#4d1021" font-weight="bold" textLength="193.0" lengthAdjust="spacingAndGlyphs">Largest % Decrease</text>
<g fill="none" stroke="#35638f" stroke-width="1.2">
<path d="M1178 617 C1178 642 1160 656.5 1132 656.5"/>
<path d="M751.7 748 C752 722 775 708 806 707.2"/>
</g>
<path d="M1124 656.5 L1133 652.5 L1133 660.5 Z" fill="#35638f"/>
<path d="M814 707.2 L805 703.2 L805 711.2 Z" fill="#35638f"/>
<rect x="61" y="815" width="1117.5" height="280" rx="38" fill="#16273a"/>
<rect x="473.5" y="840" width="1" height="225" fill="#24384f"/>
<path d="M180 847 L190 841.5 L190 852.5 Z" fill="#e2535f"/>
<text class="s" x="205.0" y="855.0" font-size="27.5" fill="#e2535f" font-weight="bold" textLength="193.0" lengthAdjust="spacingAndGlyphs">TOP DECLINES</text>
<text class="s" x="609.0" y="855.0" font-size="27.5" fill="#4b9be0" font-weight="bold" textLength="146.0" lengthAdjust="spacingAndGlyphs">TOP GAINS</text>
<path d="M778.5 847 L767.5 841.5 L767.5 852.5 Z" fill="#4b9be0"/>
<text class="s" x="867.5" y="854.0" font-size="20.0" fill="#ffffff" textLength="273.5" lengthAdjust="spacingAndGlyphs" stroke="#fff" stroke-width="0.45">Change by number of people</text>
<path d="M1145 848 C1163 850 1168 866 1158 878" fill="none" stroke="#35638f" stroke-width="1.2"/>
<path d="M1154 882 L1156 873 L1163 879 Z" fill="#35638f"/>
<path d="M114.7 1029.8 L121.9 1029.8 L123.4 1034.2 L131.1 1046.3 L130.2 1048.2 L128.2 1047.3 L122.4 1039.0 L122.4 1046.8 L123.9 1051.6 L134.5 1064.2 L134.0 1066.1 L129.2 1069.1 L128.2 1067.1 L129.7 1064.7 L121.0 1054.5 L118.1 1052.6 L110.8 1065.7 L110.3 1068.1 L101.6 1067.6 L101.4 1065.7 L106.9 1064.7 L112.7 1051.6 L112.3 1043.9 L111.8 1041.0 L102.6 1043.9 L101.4 1042.4 L111.8 1038.6 L113.2 1032.3Z M152.9 1047.3 L159.2 1047.3 L162.1 1048.7 L166.5 1050.7 L166.0 1052.1 L161.2 1051.1 L160.2 1056.5 L161.6 1062.3 L162.6 1068.1 L163.6 1070.5 L157.8 1071.0 L157.8 1069.1 L159.2 1068.6 L157.8 1062.8 L155.8 1061.3 L151.0 1068.1 L150.5 1070.5 L145.2 1069.1 L145.7 1067.1 L148.1 1067.1 L152.9 1060.3 L152.9 1055.5 L152.9 1052.6 L145.7 1055.5 L144.7 1054.0 L152.0 1050.7Z M172.3 1031.8 L181.0 1031.8 L187.8 1034.2 L190.2 1041.0 L189.7 1048.7 L187.8 1050.2 L186.3 1048.7 L187.3 1041.9 L185.4 1038.1 L184.4 1050.7 L185.4 1055.5 L191.6 1066.1 L192.1 1069.1 L184.9 1071.0 L184.4 1069.1 L187.8 1067.1 L180.0 1057.4 L177.1 1064.2 L174.2 1070.5 L166.5 1070.5 L165.5 1068.1 L170.8 1067.1 L174.2 1055.5 L173.7 1048.7 L173.3 1041.9 L168.4 1048.7 L166.5 1051.1 L164.5 1050.2 L170.3 1040.0 L170.8 1035.2Z" fill="#742f3b"/>
<ellipse cx="117.6" cy="1024.5" rx="5.0" ry="4.5" fill="#742f3b"/>
<ellipse cx="155.8" cy="1042.9" rx="4.3" ry="3.7" fill="#742f3b"/>
<ellipse cx="175.2" cy="1026.9" rx="4.8" ry="4.5" fill="#742f3b"/>
<path d="M846.0 1026.4 L858.9 1025.2 L860.1 1038.1 L857.7 1047.4 L864.8 1063.8 L872.9 1065.0 L872.9 1067.3 L863.6 1068.5 L853.1 1054.4 L842.5 1065.0 L839.0 1068.5 L834.4 1066.1 L835.5 1063.3 L847.2 1049.8 L849.6 1040.4 L843.7 1038.1 L844.9 1028.7Z M895.2 1033.4 L902.2 1033.4 L905.7 1041.6 L915.0 1043.9 L914.6 1046.2 L904.5 1045.5 L903.3 1050.9 L916.2 1063.8 L923.2 1064.3 L922.1 1067.3 L913.9 1068.0 L899.8 1054.4 L888.1 1065.0 L887.0 1068.5 L881.1 1066.1 L882.3 1063.3 L894.0 1052.1 L892.8 1042.7 L891.7 1036.9Z M931.4 1029.9 L951.3 1029.2 L956.0 1035.7 L957.1 1045.1 L954.8 1047.4 L952.5 1045.1 L950.1 1049.8 L952.5 1065.0 L959.5 1065.7 L959.5 1068.0 L947.8 1068.0 L943.1 1054.4 L937.3 1065.0 L938.4 1068.0 L929.1 1068.0 L930.2 1065.0 L936.1 1052.1 L933.7 1047.4 L930.2 1046.2 L927.9 1045.1 L929.1 1034.6Z M985.2 1035.7 L993.4 1036.2 L996.9 1045.1 L999.2 1047.4 L998.1 1049.8 L994.6 1048.6 L994.6 1062.6 L996.9 1066.1 L996.9 1068.5 L988.7 1068.5 L989.9 1066.1 L988.7 1063.3 L981.7 1063.3 L981.2 1066.1 L982.9 1068.5 L974.7 1068.5 L974.7 1065.7 L977.0 1062.6 L974.7 1061.4 L978.2 1047.4 L981.7 1039.2Z M998.5 1047.4 L999.7 1047.4 L1000.9 1068.0 L999.5 1068.0Z M1023.8 1034.6 L1032.0 1034.6 L1034.3 1042.7 L1040.2 1049.8 L1039.0 1051.6 L1032.7 1047.4 L1033.1 1060.3 L1034.3 1061.4 L1030.8 1061.9 L1032.0 1066.1 L1040.2 1066.6 L1040.2 1068.5 L1028.5 1068.5 L1028.0 1061.9 L1020.3 1061.9 L1015.6 1066.1 L1016.8 1068.5 L1010.9 1067.3 L1012.1 1064.3 L1014.4 1061.4 L1012.1 1060.3 L1019.1 1047.4 L1021.4 1038.1Z M1042.5 1050.2 L1049.5 1050.2 L1053.0 1055.6 L1056.5 1056.8 L1055.4 1058.6 L1050.7 1056.8 L1053.0 1061.4 L1049.5 1061.9 L1053.0 1066.1 L1057.7 1066.1 L1057.7 1068.0 L1050.7 1068.0 L1047.2 1062.6 L1043.7 1062.6 L1041.3 1066.1 L1041.3 1068.0 L1034.3 1068.0 L1034.3 1066.1 L1039.0 1065.7 L1041.3 1061.9 L1037.8 1061.4 L1041.3 1054.4 L1039.0 1052.1Z M1078.7 1027.5 L1088.1 1027.5 L1091.6 1039.2 L1099.8 1043.9 L1099.1 1046.2 L1090.4 1043.9 L1089.3 1049.8 L1099.8 1064.3 L1108.0 1065.0 L1107.5 1067.8 L1097.5 1068.5 L1082.2 1053.3 L1074.1 1065.0 L1072.9 1068.5 L1064.7 1067.3 L1065.9 1064.3 L1070.6 1063.3 L1078.7 1048.6 L1076.4 1045.1 L1072.9 1043.9 L1074.1 1033.4Z M1079.4 1020.3 L1090.7 1020.3 L1090.7 1021.7 L1079.4 1021.7Z" fill="#2b5278"/>
<ellipse cx="855.4" cy="1021.0" rx="4.6" ry="4.0" fill="#2b5278"/>
<ellipse cx="898.7" cy="1029.2" rx="4.3" ry="3.7" fill="#2b5278"/>
<ellipse cx="942.6" cy="1022.9" rx="4.6" ry="4.0" fill="#2b5278"/>
<ellipse cx="989.9" cy="1032.2" rx="4.0" ry="3.5" fill="#2b5278"/>
<ellipse cx="1028.0" cy="1030.6" rx="4.3" ry="3.7" fill="#2b5278"/>
<ellipse cx="1046.0" cy="1046.2" rx="4.0" ry="3.5" fill="#2b5278"/>
<ellipse cx="1084.6" cy="1023.3" rx="4.3" ry="3.7" fill="#2b5278"/>
<rect x="235.0" y="873.5" width="46.5" height="18" rx="1.5" fill="#ef545e"/>
<text class="s" x="158.5" y="890.0" font-size="22.0" fill="#e2535f" font-weight="bold" textLength="67.5" lengthAdjust="spacingAndGlyphs">-238K</text>
<text class="n" x="298.5" y="889.0" font-size="18.0" fill="#ffffff" textLength="95.5" lengthAdjust="spacingAndGlyphs">New York</text>
<rect x="263.5" y="899.0" width="18.0" height="18" rx="1.5" fill="#ef545e"/>
<text class="s" x="206.5" y="915.5" font-size="22.0" fill="#e2535f" font-weight="bold" textLength="47.5" lengthAdjust="spacingAndGlyphs">-91K</text>
<text class="n" x="298.5" y="914.5" font-size="18.0" fill="#ffffff" textLength="95.5" lengthAdjust="spacingAndGlyphs">California</text>
<rect x="264.0" y="924.5" width="17.5" height="18" rx="1.5" fill="#ef545e"/>
<text class="s" x="201.5" y="941.0" font-size="22.0" fill="#e2535f" font-weight="bold" textLength="52.5" lengthAdjust="spacingAndGlyphs">-89K</text>
<text class="n" x="298.5" y="940.0" font-size="18.0" fill="#ffffff" textLength="61.5" lengthAdjust="spacingAndGlyphs">Illinois</text>
<rect x="266.0" y="950.0" width="15.5" height="18" rx="1.5" fill="#ef545e"/>
<text class="s" x="204.0" y="966.5" font-size="22.0" fill="#e2535f" font-weight="bold" textLength="52.0" lengthAdjust="spacingAndGlyphs">-78K</text>
<text class="n" x="298.5" y="965.5" font-size="18.0" fill="#ffffff" textLength="138.5" lengthAdjust="spacingAndGlyphs">Puerto Rico**</text>
<rect x="271.0" y="975.5" width="10.5" height="18" rx="1.5" fill="#ef545e"/>
<text class="s" x="207.5" y="992.0" font-size="22.0" fill="#e2535f" font-weight="bold" textLength="53.5" lengthAdjust="spacingAndGlyphs">-55K</text>
<text class="n" x="298.5" y="991.0" font-size="18.0" fill="#ffffff" textLength="93.5" lengthAdjust="spacingAndGlyphs">Louisiana</text>
<rect x="277.0" y="1001.0" width="4.5" height="18" rx="1.5" fill="#ef545e"/>
<text class="s" x="212.0" y="1017.5" font-size="22.0" fill="#e2535f" font-weight="bold" textLength="55.0" lengthAdjust="spacingAndGlyphs">-22K</text>
<text class="n" x="298.5" y="1016.5" font-size="18.0" fill="#ffffff" textLength="133.5" lengthAdjust="spacingAndGlyphs">West Virginia</text>
<rect x="278.5" y="1026.5" width="3.0" height="18" rx="1.5" fill="#ef545e"/>
<text class="s" x="220.0" y="1043.0" font-size="22.0" fill="#e2535f" font-weight="bold" textLength="48.0" lengthAdjust="spacingAndGlyphs">-16K</text>
<text class="n" x="298.5" y="1042.0" font-size="18.0" fill="#ffffff" textLength="107.5" lengthAdjust="spacingAndGlyphs">Mississippi</text>
<rect x="280.3" y="1052.0" width="1.2" height="18" rx="1.5" fill="#ef545e"/>
<text class="s" x="231.5" y="1068.5" font-size="22.0" fill="#e2535f" font-weight="bold" textLength="38.5" lengthAdjust="spacingAndGlyphs">-5K</text>
<text class="n" x="298.5" y="1067.5" font-size="18.0" fill="#ffffff" textLength="66.5" lengthAdjust="spacingAndGlyphs">Hawaii</text>
<rect x="671" y="873.5" width="398.0" height="18" rx="1.5" fill="#4aa1e8"/>
<text class="n" x="600.0" y="889.0" font-size="18.0" fill="#ffffff" textLength="55.0" lengthAdjust="spacingAndGlyphs">Texas</text>
<text class="s" x="1080.0" y="890.0" font-size="22.0" fill="#4b9be0" font-weight="bold" textLength="62.5" lengthAdjust="spacingAndGlyphs">+2.1M</text>
<rect x="671" y="899.0" width="345.5" height="18" rx="1.5" fill="#4aa1e8"/>
<text class="n" x="588.0" y="914.5" font-size="18.0" fill="#ffffff" textLength="67.0" lengthAdjust="spacingAndGlyphs">Florida</text>
<text class="s" x="1027.0" y="915.5" font-size="22.0" fill="#4b9be0" font-weight="bold" textLength="61.0" lengthAdjust="spacingAndGlyphs">+1.8M</text>
<rect x="671" y="924.5" width="115.5" height="18" rx="1.5" fill="#4aa1e8"/>
<text class="n" x="507.0" y="940.0" font-size="18.0" fill="#ffffff" textLength="148.0" lengthAdjust="spacingAndGlyphs">North Carolina</text>
<text class="s" x="797.0" y="941.0" font-size="22.0" fill="#4b9be0" font-weight="bold" textLength="73.0" lengthAdjust="spacingAndGlyphs">+596K</text>
<rect x="671" y="950.0" width="87.0" height="18" rx="1.5" fill="#4aa1e8"/>
<text class="n" x="575.0" y="965.5" font-size="18.0" fill="#ffffff" textLength="80.0" lengthAdjust="spacingAndGlyphs">Georgia</text>
<text class="s" x="768.0" y="966.5" font-size="22.0" fill="#4b9be0" font-weight="bold" textLength="72.0" lengthAdjust="spacingAndGlyphs">+448K</text>
<rect x="671" y="975.5" width="77.0" height="18" rx="1.5" fill="#4aa1e8"/>
<text class="n" x="580.0" y="991.0" font-size="18.0" fill="#ffffff" textLength="75.0" lengthAdjust="spacingAndGlyphs">Arizona</text>
<text class="s" x="758.0" y="992.0" font-size="22.0" fill="#4b9be0" font-weight="bold" textLength="72.0" lengthAdjust="spacingAndGlyphs">+395K</text>
<rect x="671" y="1001.0" width="67.5" height="18" rx="1.5" fill="#4aa1e8"/>
<text class="n" x="506.0" y="1016.5" font-size="18.0" fill="#ffffff" textLength="149.0" lengthAdjust="spacingAndGlyphs">South Carolina</text>
<text class="s" x="748.0" y="1017.5" font-size="22.0" fill="#4b9be0" font-weight="bold" textLength="71.0" lengthAdjust="spacingAndGlyphs">+347K</text>
<rect x="671" y="1026.5" width="58.0" height="18" rx="1.5" fill="#4aa1e8"/>
<text class="n" x="548.0" y="1042.0" font-size="18.0" fill="#ffffff" textLength="107.0" lengthAdjust="spacingAndGlyphs">Tennessee</text>
<text class="s" x="739.0" y="1043.0" font-size="22.0" fill="#4b9be0" font-weight="bold" textLength="75.0" lengthAdjust="spacingAndGlyphs">+300K</text>
<rect x="671" y="1052.0" width="44.5" height="18" rx="1.5" fill="#4aa1e8"/>
<text class="n" x="534.0" y="1067.5" font-size="18.0" fill="#ffffff" textLength="121.0" lengthAdjust="spacingAndGlyphs">Washington</text>
<text class="s" x="726.0" y="1068.5" font-size="22.0" fill="#4b9be0" font-weight="bold" textLength="66.0" lengthAdjust="spacingAndGlyphs">+231K</text>
<ellipse cx="62.3" cy="1155" rx="24.8" ry="11.6" fill="none" stroke="#2f6496" stroke-width="2"/>
<path d="M42 1151 C44 1143 56 1140 62.3 1146 C68.6 1140 80.6 1143 82.6 1151 C76 1146 68 1147 62.3 1152 C56.6 1147 48.6 1146 42 1151 Z" fill="#2f6496"/>
<path d="M45 1162 C49 1163 52 1160 54 1156 C57 1152 61 1153 62.3 1155 C63.6 1153 68 1152 71 1156 C73 1160 76 1163 80 1162 C77 1166 70 1166 62.3 1163 C55 1166 48 1166 45 1162 Z" fill="#2f6496"/>
<text class="n" transform="translate(104.6 1160.5) scale(1.400 1)" font-size="16.0" fill="#2b5a84" font-weight="bold" textLength="201.7" lengthAdjust="spacing" stroke="#2b5a84" stroke-width="0.5">VISUAL CAPITALIST</text>
<text class="n" x="640.0" y="1148.0" font-size="15.0" fill="#2b5a84" textLength="560.0" lengthAdjust="spacingAndGlyphs">*Federal district. **U.S. territory. Population figures as of July 1st.</text>
<text class="n" x="785.0" y="1165.0" font-size="15.0" fill="#2b5a84" textLength="415.0" lengthAdjust="spacingAndGlyphs">Figures rounded. Source: Census Bureau (2024)</text>
<rect x="0" y="1191.8" width="1240" height="48.2" fill="#47a882"/>
<path d="M51 1201 L86 1201 Q89 1202 87 1205 L70.5 1223.5 Q68.2 1226 66 1223.5 L49 1205 Q47.5 1202 51 1201 Z" fill="#ffffff"/>
<path d="M51.5 1202.5 L66 1202.2 L60 1208 L52 1206 Z" fill="#f3cf3c"/>
<path d="M66 1202.2 L85.5 1202.2 Q87.5 1203 86 1205 L80 1211 L62 1212.5 L60 1208 Z" fill="#a9d52d"/>
<path d="M50 1205 L52 1206 L60 1208 L62 1212.5 L58.5 1216 Z" fill="#8fc4e6"/>
<path d="M62 1212.5 L80 1211 L74.5 1217.5 L67 1215 Z" fill="#49b061"/>
<path d="M58.5 1216 L62 1212.5 L67 1215 L74.5 1217.5 L70 1222.8 Q68.2 1224.5 66.5 1222.8 Z" fill="#2f9a86"/>
<text class="n" x="94.4" y="1220.6" font-size="24.0" fill="#ffffff" font-weight="bold" textLength="122.8" lengthAdjust="spacingAndGlyphs">voronoi</text>
<text class="n" transform="translate(102.0 1231.6) scale(1.300 1)" font-size="6.0" fill="#ffffff" font-weight="bold" textLength="88.0" lengthAdjust="spacing">BY VISUAL CAPITALIST</text>
<rect x="242.5" y="1204" width="1" height="25" fill="#9fd3bf"/>
<text class="n" transform="translate(264.0 1221.5) scale(1.250 1)" font-size="15.5" fill="#ffffff" font-weight="bold" textLength="197.6" lengthAdjust="spacing">Where Data Tells the Story</text>
<rect x="942" y="1201.2" width="123.2" height="29.7" rx="6" fill="#11162b"/>
<rect x="1083.2" y="1201.2" width="122.3" height="29.7" rx="6" fill="#11162b"/>
<path d="M961.6 1211.6 C958.5 1209.6 953 1210.8 952.6 1216.6 C952.4 1220.6 955.6 1225.2 958.4 1225 C960 1224.9 960.6 1224.1 962.2 1224.1 C963.8 1224.1 964.4 1224.9 966 1225 C968.6 1225 970.6 1221.8 971 1219.8 C968.2 1218.6 967.6 1214.4 970.4 1212.6 C968.6 1210.2 964.6 1209.8 961.6 1211.6 Z" fill="#fff"/>
<path d="M961.4 1210.6 C961.2 1208.4 963.6 1206.4 966 1206.4 C966.2 1208.8 963.8 1210.8 961.4 1210.6 Z" fill="#fff"/>
<path d="M1092 1208 L1103.5 1216.2 L1092 1224.5 Z" fill="#2fb4e9"/>
<path d="M1092 1208 L1107.5 1213.4 L1103.5 1216.2 Z" fill="#4bc275"/>
<path d="M1107.5 1213.4 L1113.4 1216.2 L1107.5 1219.2 L1103.5 1216.2 Z" fill="#f6c33a"/>
<path d="M1092 1224.5 L1103.5 1216.2 L1107.5 1219.2 Z" fill="#e8474f"/>
<text class="n" x="978.4" y="1213.4" font-size="7.2" fill="#ffffff" font-weight="bold" textLength="71.3" lengthAdjust="spacingAndGlyphs">Download on the</text>
<text class="n" x="978.0" y="1225.0" font-size="12.2" fill="#ffffff" font-weight="bold" textLength="76.4" lengthAdjust="spacingAndGlyphs">App Store</text>
<text class="n" x="1120.6" y="1212.6" font-size="6.0" fill="#ffffff" font-weight="bold" textLength="35.1" lengthAdjust="spacingAndGlyphs">GET IT ON</text>
<text class="n" x="1120.1" y="1224.3" font-size="12.4" fill="#ffffff" font-weight="bold" textLength="76.5" lengthAdjust="spacingAndGlyphs">Google Play</text>
</svg>
</body></html>
